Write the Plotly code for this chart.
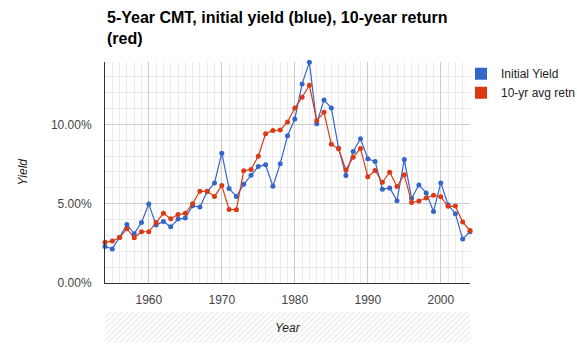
import plotly.graph_objects as go

years = list(range(1954, 2005))
initial_yield = [2.30, 2.15, 2.89, 3.69, 3.10, 3.82, 4.98, 3.65, 3.88, 3.54,
                 4.03, 4.09, 4.87, 4.79, 5.76, 6.31, 8.18, 5.95, 5.46, 6.22,
                 6.79, 7.34, 7.45, 6.10, 7.51, 9.28, 10.34, 12.55, 13.92, 10.04,
                 11.54, 11.03, 8.50, 6.78, 8.29, 9.09, 7.83, 7.66, 5.91, 5.99,
                 5.19, 7.78, 5.34, 6.18, 5.68, 4.51, 6.31, 4.94, 4.37, 2.77, 3.23]
avg_return = [2.57, 2.64, 2.87, 3.42, 2.85, 3.23, 3.23, 3.82, 4.39, 4.05,
              4.32, 4.39, 5.00, 5.78, 5.78, 5.46, 6.14, 4.64, 4.62, 7.07,
              7.15, 7.99, 9.41, 9.62, 9.64, 10.15, 11.03, 11.71, 12.47, 10.23,
              10.76, 8.75, 8.46, 7.12, 7.93, 8.48, 6.69, 7.09, 6.35, 6.98,
              6.08, 6.82, 5.08, 5.17, 5.36, 5.53, 5.44, 4.83, 4.85, 3.84, 3.31]

BLUE = "#3366cc"
RED = "#dc3912"
FONT = "Liberation Sans, Arial, sans-serif"

W, H = 577, 347
L, R, T, B = 105, 107, 62, 4
plot_w = W - L - R
plot_h = H - T - B
main_bottom = (H - B - 283) / plot_h
band_top = (H - B - 312) / plot_h

fig = go.Figure()

for name, vals, col in [("Initial Yield", initial_yield, BLUE),
                        ("10-yr avg retn", avg_return, RED)]:
    fig.add_trace(go.Scatter(
        x=years, y=[v / 100 for v in vals], mode="lines+markers", name=name,
        line=dict(color=col, width=1.2), marker=dict(color=col, size=5),
        showlegend=False, cliponaxis=False, legendgroup=name,
        hovertemplate="%{x}: %{y:.2%}<extra>" + name + "</extra>"))

for name, col in [("Initial Yield", BLUE), ("10-yr avg retn", RED)]:
    fig.add_trace(go.Scatter(
        x=[None], y=[None], mode="markers", name=name, legendgroup=name,
        marker=dict(color=col, size=12, symbol="square", line=dict(width=0))))

# hatched band behind the x-axis title
fig.add_trace(go.Bar(
    x=[0], y=[1], width=[1], xaxis="x2", yaxis="y2", showlegend=False,
    hoverinfo="skip",
    marker=dict(color="white", line=dict(width=0),
                pattern=dict(shape="/", fgcolor="#dcdcdc", bgcolor="white",
                             size=4, solidity=0.4))))

fig.update_layout(
    width=W, height=H,
    margin=dict(l=L, r=R, t=T, b=B, autoexpand=False),
    paper_bgcolor="white", plot_bgcolor="white",
    font=dict(family=FONT, size=12, color="#444"),
    xaxis=dict(range=[1954, 2004], tick0=1960, dtick=10, showgrid=True,
               gridcolor="#cccccc", gridwidth=1,
               minor=dict(dtick=1, tick0=1954, showgrid=True, gridcolor="#ebebeb"),
               showline=True, linecolor="#333", linewidth=1, zeroline=False,
               ticks="", ticklabelstandoff=6,
               tickfont=dict(size=12, color="#444"), anchor="y", fixedrange=True),
    yaxis=dict(range=[0, 0.1393], dtick=0.05, tickformat=".2%", showgrid=True,
               gridcolor="#cccccc", gridwidth=1,
               minor=dict(dtick=0.01, showgrid=True, gridcolor="#ebebeb"),
               showline=True, linecolor="#333", linewidth=1, zeroline=False,
               ticks="", ticklabelstandoff=10,
               tickfont=dict(size=12, color="#444"),
               domain=[main_bottom, 1], fixedrange=True),
    xaxis2=dict(range=[-0.5, 0.5], visible=False, anchor="y2", fixedrange=True),
    yaxis2=dict(range=[0, 1], visible=False, domain=[0, band_top],
                anchor="x2", fixedrange=True),
    bargap=0,
    legend=dict(x=(461 - L) / plot_w, xanchor="left", y=1.01, yanchor="top",
                font=dict(family=FONT, size=12, color="#222"),
                tracegroupgap=0, itemclick=False, itemdoubleclick=False,
                bgcolor="rgba(0,0,0,0)"),
    annotations=[
        dict(text="<b>5-Year CMT, initial yield (blue), 10-year return<br>(red)</b>",
             x=0, xref="paper", xanchor="left", align="left",
             y=(H - B - 7) / plot_h, yref="paper", yanchor="top",
             showarrow=False, font=dict(family=FONT, size=16, color="#000")),
        dict(text="<i>Yield</i>", x=(22 - L) / plot_w, xref="paper",
             y=(283 - 173) / 220, yref="y domain", textangle=-90,
             showarrow=False, font=dict(family=FONT, size=12, color="#222"),
             xanchor="center", yanchor="middle"),
        dict(text="<i>Year</i>", x=0.5, xref="paper",
             y=0.5, yref="y2 domain", showarrow=False,
             font=dict(family=FONT, size=12, color="#222"),
             xanchor="center", yanchor="middle"),
    ],
    showlegend=True,
)

fig.write_html("out.html")
